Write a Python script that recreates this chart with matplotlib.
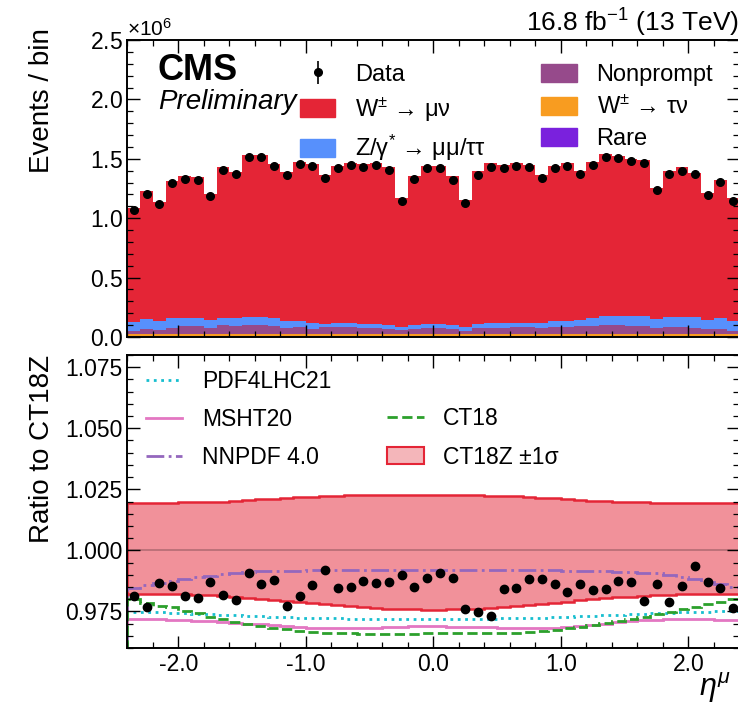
import matplotlib

matplotlib.use("Agg")
import matplotlib.pyplot as plt  # noqa: E402
import numpy as np  # noqa: E402
from matplotlib.lines import Line2D  # noqa: E402
from matplotlib.patches import Patch  # noqa: E402
from matplotlib.ticker import FormatStrFormatter, MultipleLocator, ScalarFormatter  # noqa: E402

plt.rcParams["font.family"] = ["Liberation Sans", "DejaVu Sans"]
plt.rcParams["mathtext.fontset"] = "custom"
plt.rcParams["mathtext.rm"] = "Liberation Sans"
plt.rcParams["mathtext.it"] = "Liberation Sans:italic"
plt.rcParams["mathtext.bf"] = "Liberation Sans:bold"
plt.rcParams["axes.unicode_minus"] = False

# 48 bins in muon pseudorapidity
ETA_LO, ETA_HI, N_BINS = -2.4, 2.4, 48

# top panel, events per bin in units of 1e6 (cumulative stack tops)
DATA = [1.065, 1.206, 1.121, 1.294, 1.333, 1.322, 1.184, 1.404, 1.370, 1.517, 1.517, 1.438,
        1.364, 1.455, 1.438, 1.342, 1.421, 1.446, 1.432, 1.449, 1.404, 1.147, 1.333, 1.421,
        1.421, 1.325, 1.124, 1.367, 1.429, 1.424, 1.443, 1.427, 1.342, 1.424, 1.441, 1.376,
        1.449, 1.514, 1.503, 1.480, 1.463, 1.235, 1.376, 1.401, 1.373, 1.195, 1.302, 1.147]
TOP_WMU = [1.088, 1.229, 1.138, 1.314, 1.356, 1.347, 1.206, 1.427, 1.393, 1.534, 1.534, 1.455,
           1.393, 1.477, 1.460, 1.362, 1.443, 1.466, 1.460, 1.466, 1.427, 1.167, 1.356, 1.443,
           1.443, 1.359, 1.153, 1.398, 1.463, 1.449, 1.466, 1.449, 1.362, 1.443, 1.463, 1.398,
           1.475, 1.540, 1.525, 1.497, 1.492, 1.257, 1.398, 1.427, 1.384, 1.209, 1.322, 1.172]
TOP_Z = [0.127, 0.150, 0.136, 0.161, 0.164, 0.164, 0.141, 0.164, 0.158, 0.172, 0.169, 0.158,
         0.136, 0.136, 0.119, 0.113, 0.119, 0.119, 0.113, 0.113, 0.105, 0.085, 0.105, 0.107,
         0.107, 0.099, 0.085, 0.113, 0.116, 0.119, 0.121, 0.119, 0.119, 0.133, 0.133, 0.141,
         0.161, 0.175, 0.175, 0.175, 0.178, 0.150, 0.169, 0.169, 0.169, 0.144, 0.161, 0.138]
TOP_NONPROMPT = [0.048, 0.065, 0.056, 0.076, 0.093, 0.093, 0.076, 0.099, 0.093, 0.104, 0.099, 0.090,
                 0.076, 0.082, 0.071, 0.085, 0.085, 0.085, 0.079, 0.079, 0.071, 0.056, 0.071, 0.076,
                 0.076, 0.065, 0.051, 0.076, 0.076, 0.079, 0.085, 0.085, 0.076, 0.082, 0.085, 0.090,
                 0.093, 0.099, 0.099, 0.093, 0.093, 0.076, 0.088, 0.085, 0.079, 0.065, 0.065, 0.054]
TOP_WTAU = [0.025, 0.026, 0.025, 0.026, 0.026, 0.026, 0.025, 0.026, 0.026, 0.026, 0.026, 0.025,
            0.025, 0.025, 0.024, 0.024, 0.024, 0.024, 0.024, 0.024, 0.024, 0.022, 0.024, 0.024,
            0.024, 0.024, 0.022, 0.024, 0.024, 0.024, 0.024, 0.024, 0.024, 0.025, 0.025, 0.025,
            0.026, 0.026, 0.026, 0.026, 0.026, 0.025, 0.026, 0.026, 0.026, 0.025, 0.026, 0.025]
TOP_RARE = [0.004, 0.004, 0.004, 0.004, 0.004, 0.004, 0.004, 0.004, 0.004, 0.004, 0.004, 0.004,
            0.004, 0.004, 0.004, 0.004, 0.004, 0.004, 0.004, 0.004, 0.004, 0.004, 0.004, 0.004,
            0.004, 0.004, 0.004, 0.004, 0.004, 0.004, 0.004, 0.004, 0.004, 0.004, 0.004, 0.004,
            0.004, 0.004, 0.004, 0.004, 0.004, 0.004, 0.004, 0.004, 0.004, 0.004, 0.004, 0.004]

# bottom panel, ratio to CT18Z
RATIO_DATA = [0.9813, 0.9769, 0.9866, 0.9855, 0.9814, 0.9803, 0.9870, 0.9816, 0.9798, 0.9907, 0.9863, 0.9877,
              0.9773, 0.9813, 0.9859, 0.9921, 0.9847, 0.9851, 0.9874, 0.9866, 0.9872, 0.9899, 0.9851, 0.9885,
              0.9909, 0.9885, 0.9758, 0.9749, 0.9730, 0.9843, 0.9844, 0.9881, 0.9881, 0.9861, 0.9828, 0.9861,
              0.9836, 0.9843, 0.9873, 0.9870, 0.9794, 0.9861, 0.9787, 0.9854, 0.9934, 0.9870, 0.9844, 0.9764]
BAND_UP = [1.0193, 1.0193, 1.0194, 1.0195, 1.0196, 1.0197, 1.0198, 1.0200, 1.0203, 1.0206, 1.0209, 1.0212,
           1.0215, 1.0218, 1.0220, 1.0222, 1.0224, 1.0225, 1.0226, 1.0226, 1.0226, 1.0226, 1.0226, 1.0226,
           1.0226, 1.0226, 1.0226, 1.0225, 1.0224, 1.0223, 1.0221, 1.0219, 1.0216, 1.0213, 1.0210, 1.0207,
           1.0204, 1.0201, 1.0199, 1.0197, 1.0196, 1.0195, 1.0194, 1.0194, 1.0193, 1.0193, 1.0193, 1.0193]
BAND_DN = [0.9823, 0.9823, 0.9822, 0.9821, 0.9820, 0.9818, 0.9816, 0.9813, 0.9810, 0.9806, 0.9802, 0.9798,
           0.9794, 0.9789, 0.9784, 0.9780, 0.9775, 0.9771, 0.9767, 0.9764, 0.9761, 0.9759, 0.9758, 0.9757,
           0.9757, 0.9758, 0.9759, 0.9761, 0.9764, 0.9768, 0.9772, 0.9776, 0.9781, 0.9785, 0.9790, 0.9795,
           0.9799, 0.9803, 0.9807, 0.9810, 0.9813, 0.9816, 0.9818, 0.9820, 0.9821, 0.9822, 0.9823, 0.9823]
PDF4LHC21 = [0.9748, 0.9747, 0.9746, 0.9745, 0.9743, 0.9741, 0.9739, 0.9737, 0.9735, 0.9733, 0.9731, 0.9729,
             0.9727, 0.9725, 0.9723, 0.9722, 0.9721, 0.9720, 0.9720, 0.9720, 0.9720, 0.9720, 0.9720, 0.9720,
             0.9720, 0.9720, 0.9720, 0.9720, 0.9720, 0.9721, 0.9722, 0.9723, 0.9725, 0.9727, 0.9729, 0.9731,
             0.9733, 0.9735, 0.9737, 0.9739, 0.9741, 0.9743, 0.9745, 0.9747, 0.9748, 0.9749, 0.9750, 0.9750]
MSHT20 = [0.9719, 0.9718, 0.9717, 0.9715, 0.9713, 0.9711, 0.9709, 0.9707, 0.9704, 0.9700, 0.9697, 0.9693,
          0.9690, 0.9687, 0.9684, 0.9682, 0.9681, 0.9681, 0.9682, 0.9684, 0.9686, 0.9688, 0.9689, 0.9689,
          0.9689, 0.9688, 0.9687, 0.9686, 0.9685, 0.9684, 0.9683, 0.9682, 0.9681, 0.9683, 0.9686, 0.9690,
          0.9695, 0.9700, 0.9706, 0.9710, 0.9713, 0.9716, 0.9718, 0.9719, 0.9719, 0.9717, 0.9715, 0.9714]
NNPDF40 = [0.9845, 0.9860, 0.9868, 0.9873, 0.9881, 0.9890, 0.9897, 0.9903, 0.9908, 0.9912, 0.9914, 0.9916,
           0.9917, 0.9917, 0.9918, 0.9918, 0.9918, 0.9918, 0.9918, 0.9918, 0.9918, 0.9918, 0.9918, 0.9918,
           0.9918, 0.9918, 0.9918, 0.9918, 0.9918, 0.9918, 0.9918, 0.9918, 0.9918, 0.9918, 0.9917, 0.9917,
           0.9916, 0.9915, 0.9913, 0.9911, 0.9909, 0.9906, 0.9900, 0.9890, 0.9882, 0.9871, 0.9862, 0.9850]
CT18 = [0.9799, 0.9783, 0.9773, 0.9766, 0.9753, 0.9742, 0.9728, 0.9718, 0.9707, 0.9698, 0.9691, 0.9684,
        0.9677, 0.9670, 0.9666, 0.9663, 0.9661, 0.9660, 0.9659, 0.9659, 0.9659, 0.9659, 0.9659, 0.9660,
        0.9661, 0.9661, 0.9661, 0.9661, 0.9661, 0.9662, 0.9662, 0.9666, 0.9669, 0.9673, 0.9680, 0.9687,
        0.9693, 0.9703, 0.9711, 0.9719, 0.9728, 0.9738, 0.9749, 0.9758, 0.9769, 0.9780, 0.9790, 0.9799]

RED = "#e42536"
BLUE = "#5790fc"
ORANGE = "#f89c20"
PURPLE = "#964a8b"
VIOLET = "#7a21dd"

edges = np.linspace(ETA_LO, ETA_HI, N_BINS + 1)
centers = 0.5 * (edges[1:] + edges[:-1])
mega = 1e6


def style_axis(ax):
    ax.tick_params(which="both", direction="in", top=True, right=True, labelsize=16.5)
    ax.tick_params(which="major", length=9, width=1.0)
    ax.tick_params(which="minor", length=4.5, width=0.9)
    ax.xaxis.set_major_locator(MultipleLocator(1.0))
    ax.xaxis.set_minor_locator(MultipleLocator(0.2))
    for sp in ax.spines.values():
        sp.set_linewidth(1.4)


fig = plt.figure(figsize=(7.38, 7.08), dpi=100)
ax_top = fig.add_axes([0.1726, 0.524, 0.8293, 0.4195])
ax_bot = fig.add_axes([0.1726, 0.0847, 0.8293, 0.4139], sharex=ax_top)

# ---- stacked prediction
layers = [
    (np.zeros(N_BINS), TOP_RARE, VIOLET),
    (TOP_RARE, TOP_WTAU, ORANGE),
    (TOP_WTAU, TOP_NONPROMPT, PURPLE),
    (TOP_NONPROMPT, TOP_Z, BLUE),
    (TOP_Z, TOP_WMU, RED),
]
for lo, hi, col in layers:
    ax_top.stairs(np.asarray(hi) * mega, edges, baseline=np.asarray(lo) * mega,
                  fill=True, color=col, lw=0)

data_h = ax_top.errorbar(centers, np.asarray(DATA) * mega, yerr=np.zeros(N_BINS),
                         fmt="o", color="k", ms=5.5, elinewidth=1.2)

ax_top.set_xlim(ETA_LO, ETA_HI)
ax_top.set_ylim(0, 2.5e6)
style_axis(ax_top)
ax_top.yaxis.set_major_locator(MultipleLocator(0.5e6))
ax_top.yaxis.set_minor_locator(MultipleLocator(0.1e6))
fmt = ScalarFormatter(useMathText=True)
fmt.set_powerlimits((0, 0))
ax_top.yaxis.set_major_formatter(fmt)
ax_top.yaxis.get_offset_text().set_fontsize(15)
ax_top.tick_params(labelbottom=False)
ax_top.set_ylabel("Events / bin", fontsize=20, loc="top")
ax_top.yaxis.set_label_coords(-0.118, 1.04)

ax_top.text(0.05, 0.955, "CMS", transform=ax_top.transAxes, fontsize=26,
            fontweight="bold", va="top", ha="left")
ax_top.text(0.05, 0.835, "Preliminary", transform=ax_top.transAxes, fontsize=20,
            fontstyle="italic", va="top", ha="left")
ax_top.set_title("16.8 fb$^{-1}$ (13 TeV)", loc="right", fontsize=19, pad=6)

leg_kw = dict(loc="upper left", frameon=False, fontsize=17, handlelength=1.5,
              handleheight=0.8, handletextpad=0.85, labelspacing=0.4,
              borderpad=0, borderaxespad=0)
leg1 = ax_top.legend(
    [data_h, Patch(color=RED), Patch(color=BLUE)],
    ["Data", "W$^{\\pm}$ → μν", "Z/γ$^{*}$ → μμ/ττ"],
    bbox_to_anchor=(0.282, 0.92), **leg_kw,
)
ax_top.add_artist(leg1)
ax_top.legend(
    [Patch(color=PURPLE), Patch(color=ORANGE), Patch(color=VIOLET)],
    ["Nonprompt", "W$^{\\pm}$ → τν", "Rare"],
    bbox_to_anchor=(0.676, 0.92), **leg_kw,
)

# ---- ratio panel
ax_bot.stairs(BAND_UP, edges, baseline=BAND_DN, fill=True, color=RED, alpha=0.5, lw=0)
ax_bot.stairs(BAND_UP, edges, color=RED, lw=1.8)
ax_bot.stairs(BAND_DN, edges, color=RED, lw=1.8)
ax_bot.axhline(1.0, color="k", alpha=0.25, lw=1.2)
ax_bot.stairs(PDF4LHC21, edges, color="#17becf", ls=":", lw=2)
ax_bot.stairs(MSHT20, edges, color="#e377c2", ls="-", lw=2)
ax_bot.stairs(NNPDF40, edges, color="#9467bd", ls="-.", lw=2)
ax_bot.stairs(CT18, edges, color="#2ca02c", ls="--", lw=2)
ax_bot.plot(centers, RATIO_DATA, "o", color="k", ms=6)

ax_bot.set_xlim(ETA_LO, ETA_HI)
ax_bot.set_ylim(0.96, 1.08)
style_axis(ax_bot)
ax_bot.yaxis.set_major_locator(MultipleLocator(0.025))
ax_bot.yaxis.set_minor_locator(MultipleLocator(0.005))
ax_bot.yaxis.set_major_formatter(FormatStrFormatter("%.3f"))
ax_bot.xaxis.set_major_formatter(FormatStrFormatter("%.1f"))
ax_bot.set_ylabel("Ratio to CT18Z", fontsize=20, loc="top")
ax_bot.yaxis.set_label_coords(-0.118, 1.0)
ax_bot.set_xlabel("$\\eta^{\\mu}$", fontsize=22, loc="right")
ax_bot.xaxis.set_label_coords(0.985, -0.075, transform=ax_bot.transAxes)
ax_bot.xaxis.label.set_ha("right")

h_pdf = Line2D([], [], color="#17becf", ls=":", lw=2)
h_msht = Line2D([], [], color="#e377c2", ls="-", lw=2)
h_nn = Line2D([], [], color="#9467bd", ls="-.", lw=2)
h_ct18 = Line2D([], [], color="#2ca02c", ls="--", lw=2)
h_band = Patch(facecolor="#f4b6ba", edgecolor=RED, lw=1.5)

leg_kw2 = dict(loc="upper left", frameon=False, fontsize=16.5, handlelength=1.6,
               handletextpad=0.85, labelspacing=0.67, borderpad=0, borderaxespad=0)
leg3 = ax_bot.legend(
    [h_pdf, h_msht, h_nn], ["PDF4LHC21", "MSHT20", "NNPDF 4.0"],
    bbox_to_anchor=(0.03, 0.95), **leg_kw2,
)
ax_bot.add_artist(leg3)
ax_bot.legend(
    [h_ct18, h_band], ["CT18", "CT18Z ±1σ"],
    bbox_to_anchor=(0.424, 0.822), **leg_kw2,
)

fig.savefig("out.png", dpi=100)
